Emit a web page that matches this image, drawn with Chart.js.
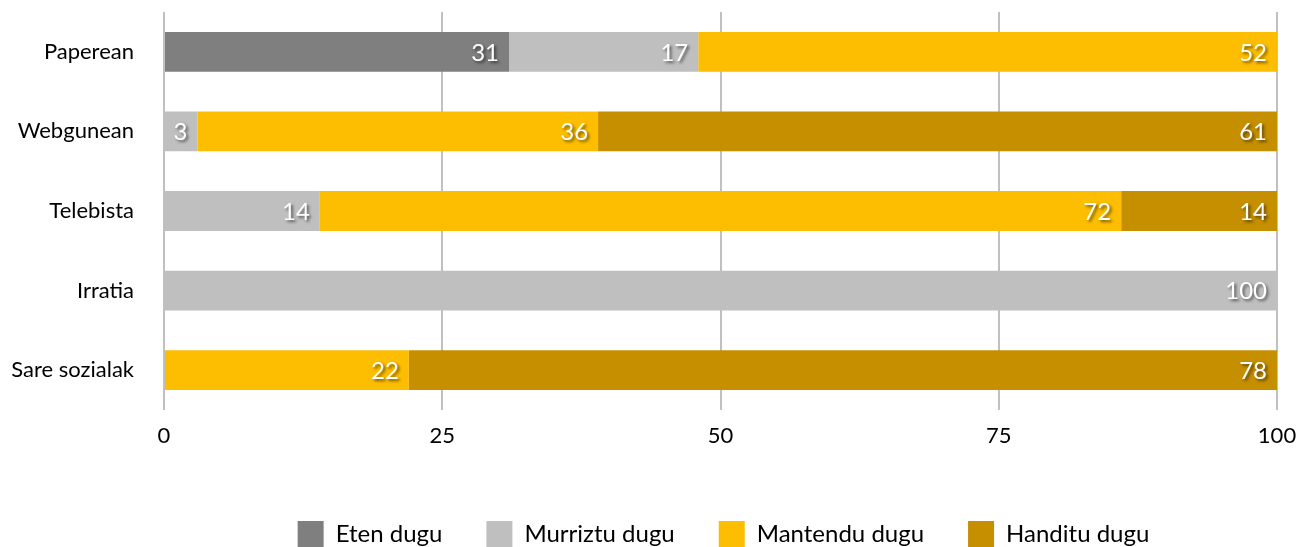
<!DOCTYPE html>
<html>
<head>
<meta charset="utf-8">
<script src="https://cdn.jsdelivr.net/npm/chart.js@4/dist/chart.umd.min.js"></script>
<style>
  html, body { margin: 0; padding: 0; background: #fff; }
  #wrap { width: 1310px; height: 547px; }
</style>
</head>
<body>
<div id="wrap"><canvas id="chart" width="1310" height="547"></canvas></div>
<script>
// Kategoriak eta serieak
const categories = ['Paperean', 'Webgunean', 'Telebista', 'Irratia', 'Sare sozialak'];
const etenDugu = [31, 0, 0, 0, 0];
const murrizDugu = [17, 3, 14, 100, 0];
const mantenduDugu = [52, 36, 72, 0, 22];
const handituDugu = [0, 61, 14, 0, 78];
const xTicks = [0, 25, 50, 75, 100];

const fontFamily = "Lato, 'Open Sans', sans-serif";

// Balio etiketak (segmentuaren amaieran, itzalarekin)
const valueLabels = {
    id: 'valueLabels',
    afterLayout(chart) {
        // legenda eskuinerantz mugitu, jatorrizkoan bezala
        chart.legend.left += 85;
        chart.legend.right += 85;
    },
    afterDatasetsDraw(chart) {
        const ctx = chart.ctx;
        ctx.save();
        ctx.font = "24px " + fontFamily;
        ctx.fillStyle = '#ffffff';
        ctx.textAlign = 'right';
        ctx.textBaseline = 'middle';
        ctx.shadowColor = 'rgba(0,0,0,0.55)';
        ctx.shadowOffsetX = 2;
        ctx.shadowOffsetY = 2;
        ctx.shadowBlur = 3;
        chart.data.datasets.forEach((ds, i) => {
            const meta = chart.getDatasetMeta(i);
            meta.data.forEach((bar, j) => {
                const v = ds.data[j];
                if (!v) return;
                ctx.fillText(String(v), bar.x - 10, bar.y + 1);
            });
        });
        ctx.restore();
    }
};

const ctx = document.getElementById('chart').getContext('2d');
const chart = new Chart(ctx, {
    type: 'bar',
    data: {
        labels: categories,
        datasets: [
            { label: 'Eten dugu', data: etenDugu, backgroundColor: '#7f7f7f' },
            { label: 'Murriztu dugu', data: murrizDugu, backgroundColor: '#bfbfbf' },
            { label: 'Mantendu dugu', data: mantenduDugu, backgroundColor: '#fdbd00' },
            { label: 'Handitu dugu', data: handituDugu, backgroundColor: '#c68f00' }
        ]
    },
    options: {
        indexAxis: 'y',
        responsive: false,
        animation: false,
        datasets: {
            bar: { categoryPercentage: 1, barPercentage: 0.5, borderWidth: 0 }
        },
        layout: { padding: { top: 12, right: 33, left: 0, bottom: -10 } },
        scales: {
            x: {
                stacked: true,
                min: 0,
                max: 100,
                afterBuildTicks(scale) {
                    scale.ticks = xTicks.map(v => ({ value: v }));
                },
                afterFit(scale) { scale.height = 67; },
                grid: { color: '#c0c0c0', lineWidth: 2, drawTicks: false },
                border: { display: false },
                ticks: {
                    color: '#000',
                    padding: 13,
                    font: { size: 22, family: fontFamily }
                }
            },
            y: {
                stacked: true,
                grid: { display: false, drawTicks: false },
                border: { display: false },
                afterFit(scale) {
                    scale.width = 164;
                    scale.paddingTop = 0;
                    scale.paddingBottom = 0;
                },
                ticks: {
                    color: '#000',
                    padding: 30,
                    font: { size: 22, family: fontFamily }
                }
            }
        },
        plugins: {
            legend: {
                position: 'bottom',
                labels: {
                    boxWidth: 26,
                    boxHeight: 26,
                    padding: 44,
                    color: '#000',
                    font: { size: 24, family: fontFamily }
                }
            },
            tooltip: { enabled: false }
        }
    },
    plugins: [valueLabels]
});
</script>
</body>
</html>
